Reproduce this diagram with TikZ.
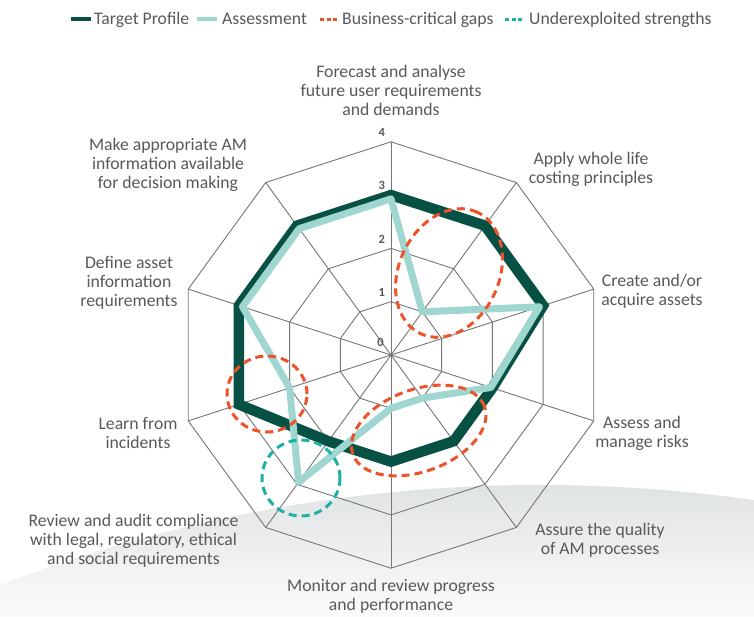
\documentclass[tikz,border=0pt]{standalone}
\usepackage{fontspec}
\setmainfont{Carlito}
\definecolor{txt}{RGB}{88,89,91}
\definecolor{dgreen}{RGB}{6,80,68}
\definecolor{lteal}{RGB}{160,214,208}
\definecolor{rdash}{RGB}{238,82,40}
\definecolor{tdash}{RGB}{30,176,164}
\definecolor{gridc}{RGB}{118,118,122}
\definecolor{hilltop}{RGB}{224,227,228}
\definecolor{hillbot}{RGB}{251,251,251}
\begin{document}
\begin{tikzpicture}[x=1pt,y=1pt,
  lbl/.style={text=txt, font=\fontsize{17.7}{19}\selectfont, align=center, inner sep=0pt},
  ticklbl/.style={text=txt, font=\fontsize{12.5}{12.5}\selectfont\bfseries, inner sep=0pt},
  gridline/.style={draw=gridc, line width=0.9pt},
  target/.style={draw=dgreen, line width=10.5pt, line join=miter},
  assess/.style={draw=lteal, line width=7pt, line join=round},
  gap/.style={draw=rdash, line width=3pt, dash pattern=on 8pt off 5pt},
  strength/.style={draw=tdash, line width=3pt, dash pattern=on 8pt off 5pt}
]
\useasboundingbox (0,0) rectangle (754,616);
\fill[white] (0,0) rectangle (754,616);
% background hill
\begin{scope}
\clip (540,-1369) circle (1500);
\shade[top color=hilltop, bottom color=hillbot] (0,0) rectangle (754,131);
\end{scope}
% geometry
\def\cx{391}\def\cy{261}\def\u{53.3}
\coordinate (c) at (\cx,\cy);
\foreach \k in {0,...,9}{
  \pgfmathsetmacro\ang{90-36*\k}
  \foreach \r in {1,2,3,4}{
    \coordinate (g\k-\r) at ({\cx+\r*\u*cos(\ang)},{\cy+\r*\u*sin(\ang)});
  }
}
% grid
\foreach \r in {1,2,3,4}{
  \draw[gridline] (g0-\r) -- (g1-\r) -- (g2-\r) -- (g3-\r) -- (g4-\r) -- (g5-\r) -- (g6-\r) -- (g7-\r) -- (g8-\r) -- (g9-\r) -- cycle;
}
\foreach \k in {0,...,9}{ \draw[gridline] (c) -- (g\k-4); }
\fill[gridc] (c) circle (1.8);
% data points
\foreach \k/\v in {0/3,1/3,2/3,3/2,4/2,5/2,6/2,7/3,8/3,9/3}{
  \pgfmathsetmacro\ang{90-36*\k}
  \coordinate (t\k) at ({\cx+\v*\u*cos(\ang)},{\cy+\v*\u*sin(\ang)});
}
\foreach \k/\v in {0/2.93,1/1,2/2.93,3/1.97,4/1,5/1,6/2.95,7/2,8/2.93,9/2.93}{
  \pgfmathsetmacro\ang{90-36*\k}
  \coordinate (a\k) at ({\cx+\v*\u*cos(\ang)},{\cy+\v*\u*sin(\ang)});
}
\draw[target] (t0) -- (t1) -- (t2) -- (t3) -- (t4) -- (t5) -- (t6) -- (t7) -- (t8) -- (t9) -- cycle;
\draw[assess] (a0) -- (a1) -- (a2) -- (a3) -- (a4) -- (a5) -- (a6) -- (a7) -- (a8) -- (a9) -- cycle;
% tick labels
\node[ticklbl] (n4) at (381.7,483.3) {4};
\node[ticklbl] (n3) at (381.7,431) {3};
\node[ticklbl] (n2) at (381.7,377) {2};
\node[ticklbl] (n1) at (381.7,324) {1};
\node[ticklbl] (n0) at (380.5,274) {0};
% highlight ellipses
\draw[gap, rotate around={65:(449,343)}] (449,343) ellipse (67 and 50);
\draw[gap] (267,222) ellipse (40 and 38);
\draw[gap, rotate around={20:(418.7,185.5)}] (418.7,185.5) ellipse (70 and 41);
\draw[strength] (301,138) ellipse (39 and 38);
% axis labels
\node[lbl] (l0) at (391,525.5) {Forecast and analyse\\future user requirements\\and demands};
\node[lbl] (l1) at (591,446.5) {Apply whole life\\costing principles};
\node[lbl] (l2) at (652,324.8) {Create and/or\\acquire assets};
\node[lbl] (l3) at (642,183) {Assess and\\manage risks};
\node[lbl] (l4) at (600,76) {Assure the quality\\of AM processes};
\node[lbl] (l5) at (391,19.5) {Monitor and review progress\\and performance};
\node[lbl] (l6) at (133.5,75) {Review and audit compliance\\with legal, regulatory, ethical\\and social requirements};
\node[lbl] (l7) at (138,183) {Learn from\\incidents};
\node[lbl] (l8) at (129,333) {Define asset\\information\\requirements};
\node[lbl] (l9) at (168,451) {Make appropriate AM\\information available\\for decision making};
% legend
\draw[draw=dgreen, line width=4pt] (71,596.5) -- (91,596.5);
\node[lbl, anchor=base west] (lg1) at (94,591) {Target Profile};
\draw[draw=lteal, line width=4pt] (197,596.5) -- (217,596.5);
\node[lbl, anchor=base west] (lg2) at (222,591) {Assessment};
\draw[draw=rdash, line width=3.5pt, dash pattern=on 4pt off 2.5pt] (320,596.5) -- (339,596.5);
\node[lbl, anchor=base west] (lg3) at (342,591) {Business-critical gaps};
\draw[draw=tdash, line width=3.5pt, dash pattern=on 4pt off 2.5pt] (505,596.5) -- (524,596.5);
\node[lbl, anchor=base west] (lg4) at (529,591) {Underexploited strengths};
\end{tikzpicture}
\end{document}
